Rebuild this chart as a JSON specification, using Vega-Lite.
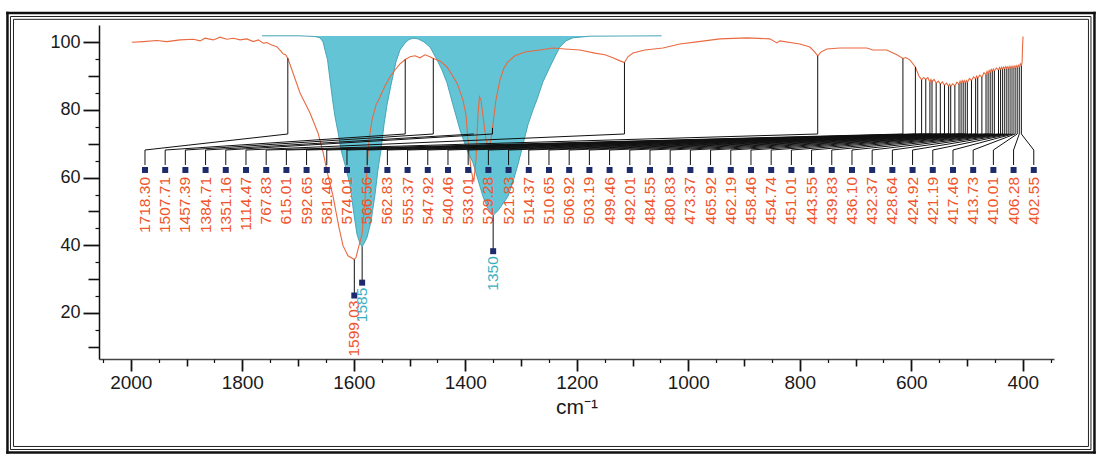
{
  "$schema": "https://vega.github.io/schema/vega-lite/v6.json",
  "width": 955,
  "height": 334,
  "autosize": {"type": "none"},
  "padding": {"left": 99, "top": 25, "right": 42, "bottom": 95},
  "background": "white",
  "config": {"view": {"stroke": null}, "font": "Liberation Sans", "axis": {"grid": false}},
  "resolve": {"axis": {"x": "independent", "y": "independent"}},
  "datasets": {
    "spec": [
      {"wn":1998.2,"t":100.0},{"wn":1977.4,"t":100.2},{"wn":1953.4,"t":100.5},{"wn":1935.5,"t":100.2},{"wn":1911.6,"t":100.7},
      {"wn":1887.7,"t":100.9},{"wn":1875.7,"t":100.4},{"wn":1866.8,"t":101.2},{"wn":1851.9,"t":100.7},{"wn":1839.9,"t":101.5},
      {"wn":1827.9,"t":100.9},{"wn":1816.0,"t":101.2},{"wn":1804.0,"t":100.7},{"wn":1792.0,"t":101.0},{"wn":1780.2,"t":100.2},
      {"wn":1771.2,"t":100.7},{"wn":1762.2,"t":99.7},{"wn":1756.1,"t":99.9},{"wn":1747.2,"t":99.2},{"wn":1738.2,"t":98.7},
      {"wn":1732.3,"t":97.7},{"wn":1726.4,"t":96.5},{"wn":1722.4,"t":96.3},{"wn":1718.3,"t":95.3},{"wn":1709.0,"t":90.9},
      {"wn":1696.4,"t":85.0},{"wn":1678.5,"t":79.1},{"wn":1664.2,"t":73.2},{"wn":1655.2,"t":67.6},{"wn":1646.2,"t":60.6},
      {"wn":1637.3,"t":54.6},{"wn":1631.9,"t":49.9},{"wn":1626.5,"t":45.2},{"wn":1619.3,"t":39.9},{"wn":1610.4,"t":36.9},
      {"wn":1599.03,"t":35.8},{"wn":1596.0,"t":36.4},{"wn":1592.4,"t":38.8},{"wn":1585.2,"t":43.2},{"wn":1579.9,"t":53.5},
      {"wn":1576.3,"t":62.3},{"wn":1572.7,"t":71.2},{"wn":1567.3,"t":77.0},{"wn":1560.1,"t":81.5},{"wn":1553.0,"t":83.8},
      {"wn":1544.0,"t":87.1},{"wn":1535.0,"t":89.8},{"wn":1526.1,"t":91.8},{"wn":1517.1,"t":93.6},{"wn":1507.71,"t":94.9},
      {"wn":1499.2,"t":95.7},{"wn":1490.2,"t":96.0},{"wn":1481.2,"t":95.4},{"wn":1472.3,"t":96.3},{"wn":1463.3,"t":95.7},
      {"wn":1457.39,"t":95.2},{"wn":1445.4,"t":94.5},{"wn":1432.8,"t":92.7},{"wn":1423.9,"t":90.4},{"wn":1414.9,"t":88.0},
      {"wn":1404.2,"t":83.0},{"wn":1398.8,"t":78.6},{"wn":1395.2,"t":71.2},{"wn":1389.8,"t":62.3},{"wn":1384.71,"t":58.8},
      {"wn":1380.8,"t":65.3},{"wn":1377.3,"t":78.6},{"wn":1374.6,"t":83.9},{"wn":1371.9,"t":83.0},{"wn":1367.4,"t":77.1},
      {"wn":1362.9,"t":71.2},{"wn":1357.5,"t":68.8},{"wn":1354.0,"t":71.2},{"wn":1351.16,"t":74.7},{"wn":1345.0,"t":83.0},
      {"wn":1337.8,"t":88.9},{"wn":1330.6,"t":92.4},{"wn":1323.5,"t":94.2},{"wn":1310.9,"t":96.0},{"wn":1293.0,"t":97.1},
      {"wn":1266.1,"t":97.7},{"wn":1242.8,"t":98.3},{"wn":1221.3,"t":98.0},{"wn":1194.4,"t":97.7},{"wn":1167.5,"t":96.8},
      {"wn":1149.5,"t":96.3},{"wn":1135.2,"t":95.4},{"wn":1122.6,"t":94.5},{"wn":1114.47,"t":94.0},{"wn":1108.3,"t":95.7},
      {"wn":1099.3,"t":96.8},{"wn":1077.8,"t":97.7},{"wn":1045.5,"t":98.3},{"wn":1015.0,"t":99.5},{"wn":984.6,"t":100.1},
      {"wn":943.3,"t":101.0},{"wn":894.9,"t":101.3},{"wn":853.7,"t":101.0},{"wn":841.1,"t":99.8},{"wn":835.7,"t":100.4},
      {"wn":799.9,"t":99.5},{"wn":781.9,"t":98.6},{"wn":773.0,"t":97.1},{"wn":767.83,"t":96.0},{"wn":762.2,"t":97.1},
      {"wn":751.5,"t":98.0},{"wn":728.1,"t":98.3},{"wn":679.7,"t":98.3},{"wn":669.0,"t":97.7},{"wn":643.9,"t":97.7},
      {"wn":625.9,"t":96.3},{"wn":615.01,"t":95.2},{"wn":609.8,"t":95.5},{"wn":602.6,"t":94.8},{"wn":592.65,"t":92.7},
      {"wn":586.5,"t":90.1},{"wn":581.46,"t":88.9},{"wn":577.7,"t":89.6},{"wn":574.01,"t":89.0},{"wn":570.3,"t":89.6},
      {"wn":566.56,"t":88.1},{"wn":564.7,"t":89.0},{"wn":562.83,"t":88.4},{"wn":559.1,"t":89.0},{"wn":555.37,"t":87.9},
      {"wn":551.6,"t":88.5},{"wn":547.92,"t":87.7},{"wn":544.2,"t":88.3},{"wn":540.46,"t":87.3},{"wn":536.7,"t":87.9},
      {"wn":533.01,"t":87.0},{"wn":531.1,"t":87.6},{"wn":529.28,"t":87.0},{"wn":525.6,"t":87.7},{"wn":521.83,"t":87.1},
      {"wn":518.1,"t":88.2},{"wn":514.37,"t":87.6},{"wn":512.5,"t":88.5},{"wn":510.65,"t":87.9},{"wn":508.8,"t":88.7},
      {"wn":506.92,"t":88.1},{"wn":505.1,"t":88.7},{"wn":503.19,"t":88.0},{"wn":501.3,"t":88.7},{"wn":499.46,"t":88.1},
      {"wn":495.7,"t":89.3},{"wn":492.01,"t":88.7},{"wn":488.3,"t":89.8},{"wn":484.55,"t":89.2},{"wn":482.7,"t":90.0},
      {"wn":480.83,"t":89.4},{"wn":477.1,"t":90.3},{"wn":473.37,"t":89.7},{"wn":469.6,"t":91.0},{"wn":465.92,"t":90.4},
      {"wn":464.1,"t":91.4},{"wn":462.19,"t":90.8},{"wn":460.3,"t":91.7},{"wn":458.46,"t":91.1},{"wn":456.6,"t":92.0},
      {"wn":454.74,"t":91.4},{"wn":452.9,"t":92.1},{"wn":451.01,"t":91.5},{"wn":447.3,"t":92.4},{"wn":443.55,"t":91.8},
      {"wn":441.7,"t":92.5},{"wn":439.83,"t":91.9},{"wn":438.0,"t":92.6},{"wn":436.10,"t":92.0},{"wn":434.2,"t":92.7},
      {"wn":432.37,"t":92.1},{"wn":430.5,"t":92.8},{"wn":428.64,"t":92.2},{"wn":426.8,"t":92.8},{"wn":424.92,"t":92.2},
      {"wn":423.1,"t":92.9},{"wn":421.19,"t":92.3},{"wn":419.3,"t":92.9},{"wn":417.46,"t":92.3},{"wn":415.6,"t":93.0},
      {"wn":413.73,"t":92.4},{"wn":411.9,"t":93.1},{"wn":410.01,"t":92.5},{"wn":408.1,"t":93.2},{"wn":406.28,"t":92.6},
      {"wn":404.4,"t":93.6},{"wn":402.55,"t":93.0},{"wn":401.2,"t":94.2},{"wn":400.3,"t":99.2},{"wn":399.5,"t":101.7}
    ],
    "cyan": [
      {"wn":1764.6,"t":101.9},{"wn":1696.4,"t":101.9},{"wn":1669.5,"t":101.7},{"wn":1660.6,"t":101.3},{"wn":1655.2,"t":100.1},
      {"wn":1651.6,"t":97.7},{"wn":1647.1,"t":94.8},{"wn":1642.6,"t":88.9},{"wn":1638.1,"t":83.0},{"wn":1633.7,"t":78.0},
      {"wn":1628.3,"t":73.5},{"wn":1622.9,"t":68.2},{"wn":1615.7,"t":63.8},{"wn":1606.8,"t":57.9},{"wn":1599.6,"t":49.1},
      {"wn":1594.2,"t":43.2},{"wn":1588.8,"t":40.5},{"wn":1585.0,"t":39.6},{"wn":1581.7,"t":40.5},{"wn":1576.3,"t":42.3},
      {"wn":1569.1,"t":47.0},{"wn":1561.9,"t":55.0},{"wn":1556.6,"t":62.3},{"wn":1551.2,"t":68.2},{"wn":1545.8,"t":75.6},
      {"wn":1540.4,"t":81.5},{"wn":1533.2,"t":87.4},{"wn":1524.3,"t":94.2},{"wn":1517.1,"t":97.7},{"wn":1508.1,"t":99.8},
      {"wn":1501.0,"t":100.8},{"wn":1493.8,"t":101.2},{"wn":1484.8,"t":101.0},{"wn":1474.1,"t":100.1},{"wn":1463.3,"t":98.6},
      {"wn":1452.6,"t":95.4},{"wn":1441.8,"t":91.8},{"wn":1432.8,"t":88.0},{"wn":1422.1,"t":81.5},{"wn":1409.5,"t":74.1},
      {"wn":1397.0,"t":68.2},{"wn":1386.2,"t":64.4},{"wn":1377.3,"t":59.4},{"wn":1368.3,"t":54.4},{"wn":1359.3,"t":50.8},
      {"wn":1350.0,"t":48.9},{"wn":1341.4,"t":50.2},{"wn":1332.4,"t":52.3},{"wn":1323.5,"t":54.4},{"wn":1314.5,"t":58.8},
      {"wn":1305.5,"t":63.8},{"wn":1296.6,"t":69.7},{"wn":1287.6,"t":75.6},{"wn":1278.6,"t":80.0},{"wn":1271.5,"t":83.0},
      {"wn":1260.7,"t":88.3},{"wn":1248.2,"t":92.7},{"wn":1237.4,"t":96.3},{"wn":1230.2,"t":98.6},{"wn":1219.5,"t":100.4},
      {"wn":1206.9,"t":101.3},{"wn":1176.4,"t":101.8},{"wn":1047.9,"t":101.9}
    ],
    "peaks": [
      {"wn":1718.30,"t":95.3,"label":"1718.30"},{"wn":1507.71,"t":94.9,"label":"1507.71"},{"wn":1457.39,"t":95.2,"label":"1457.39"},
      {"wn":1384.71,"t":58.8,"label":"1384.71"},{"wn":1351.16,"t":74.7,"label":"1351.16"},{"wn":1114.47,"t":94.0,"label":"1114.47"},
      {"wn":767.83,"t":96.0,"label":"767.83"},{"wn":615.01,"t":95.2,"label":"615.01"},{"wn":592.65,"t":92.7,"label":"592.65"},
      {"wn":581.46,"t":88.9,"label":"581.46"},{"wn":574.01,"t":89.0,"label":"574.01"},{"wn":566.56,"t":88.1,"label":"566.56"},
      {"wn":562.83,"t":88.4,"label":"562.83"},{"wn":555.37,"t":87.9,"label":"555.37"},{"wn":547.92,"t":87.7,"label":"547.92"},
      {"wn":540.46,"t":87.3,"label":"540.46"},{"wn":533.01,"t":87.0,"label":"533.01"},{"wn":529.28,"t":87.0,"label":"529.28"},
      {"wn":521.83,"t":87.1,"label":"521.83"},{"wn":514.37,"t":87.6,"label":"514.37"},{"wn":510.65,"t":87.9,"label":"510.65"},
      {"wn":506.92,"t":88.1,"label":"506.92"},{"wn":503.19,"t":88.0,"label":"503.19"},{"wn":499.46,"t":88.1,"label":"499.46"},
      {"wn":492.01,"t":88.7,"label":"492.01"},{"wn":484.55,"t":89.2,"label":"484.55"},{"wn":480.83,"t":89.4,"label":"480.83"},
      {"wn":473.37,"t":89.7,"label":"473.37"},{"wn":465.92,"t":90.4,"label":"465.92"},{"wn":462.19,"t":90.8,"label":"462.19"},
      {"wn":458.46,"t":91.1,"label":"458.46"},{"wn":454.74,"t":91.4,"label":"454.74"},{"wn":451.01,"t":91.5,"label":"451.01"},
      {"wn":443.55,"t":91.8,"label":"443.55"},{"wn":439.83,"t":91.9,"label":"439.83"},{"wn":436.10,"t":92.0,"label":"436.10"},
      {"wn":432.37,"t":92.1,"label":"432.37"},{"wn":428.64,"t":92.2,"label":"428.64"},{"wn":424.92,"t":92.2,"label":"424.92"},
      {"wn":421.19,"t":92.3,"label":"421.19"},{"wn":417.46,"t":92.3,"label":"417.46"},{"wn":413.73,"t":92.4,"label":"413.73"},
      {"wn":410.01,"t":92.5,"label":"410.01"},{"wn":406.28,"t":92.6,"label":"406.28"},{"wn":402.55,"t":93.0,"label":"402.55"}
    ],
    "special": [
      {"wn":1599.03,"t":35.8,"label":"1599.03","kind":"sample"},
      {"wn":1585,"t":39.6,"label":"1585","kind":"reference"},
      {"wn":1350,"t":48.9,"label":"1350","kind":"reference"}
    ]
  },
  "encoding": {
    "x": {"field": "wn", "type": "quantitative", "scale": {"domain": [2057, 344], "nice": false, "zero": false}, "axis": null},
    "y": {"field": "t", "type": "quantitative", "scale": {"domain": [6.4, 105.1], "nice": false, "zero": false}, "axis": null}
  },
  "layer": [
    {"data": {"name": "special"}, "transform": [{"filter": "datum.kind === 'sample'"}],
     "mark": {"type": "rule", "color": "#111", "strokeWidth": 2.5, "strokeCap": "square", "clip": false},
     "encoding": {"x": {"datum": 2221.2, "type": "quantitative", "axis": null}, "x2": {"datum": 271.4}, "y": {"datum": 108.65, "type": "quantitative", "axis": null}}},
    {"data": {"name": "special"}, "transform": [{"filter": "datum.kind === 'sample'"}],
     "mark": {"type": "rule", "color": "#111", "strokeWidth": 2.5, "strokeCap": "square", "clip": false},
     "encoding": {"x": {"datum": 2221.2, "type": "quantitative", "axis": null}, "x2": {"datum": 271.4}, "y": {"datum": -21.23, "type": "quantitative", "axis": null}}},
    {"data": {"name": "special"}, "transform": [{"filter": "datum.kind === 'sample'"}],
     "mark": {"type": "rule", "color": "#111", "strokeWidth": 2.5, "strokeCap": "square", "clip": false},
     "encoding": {"x": {"datum": 2221.2, "type": "quantitative", "axis": null}, "y": {"datum": 108.65, "type": "quantitative", "axis": null}, "y2": {"datum": -21.23}}},
    {"data": {"name": "special"}, "transform": [{"filter": "datum.kind === 'sample'"}],
     "mark": {"type": "rule", "color": "#111", "strokeWidth": 2.5, "strokeCap": "square", "clip": false},
     "encoding": {"x": {"datum": 271.4, "type": "quantitative", "axis": null}, "y": {"datum": 108.65, "type": "quantitative", "axis": null}, "y2": {"datum": -21.23}}},

    {"data": {"name": "special"}, "transform": [{"filter": "datum.kind === 'sample'"}],
     "mark": {"type": "rule", "color": "#222", "strokeWidth": 1, "clip": false},
     "encoding": {"x": {"datum": 2215.8, "type": "quantitative", "axis": null}, "x2": {"datum": 277.7}, "y": {"datum": 107.61, "type": "quantitative", "axis": null}}},
    {"data": {"name": "special"}, "transform": [{"filter": "datum.kind === 'sample'"}],
     "mark": {"type": "rule", "color": "#222", "strokeWidth": 1, "clip": false},
     "encoding": {"x": {"datum": 2215.8, "type": "quantitative", "axis": null}, "x2": {"datum": 277.7}, "y": {"datum": -20.34, "type": "quantitative", "axis": null}}},
    {"data": {"name": "special"}, "transform": [{"filter": "datum.kind === 'sample'"}],
     "mark": {"type": "rule", "color": "#222", "strokeWidth": 1, "clip": false},
     "encoding": {"x": {"datum": 2215.8, "type": "quantitative", "axis": null}, "y": {"datum": 107.61, "type": "quantitative", "axis": null}, "y2": {"datum": -20.34}}},
    {"data": {"name": "special"}, "transform": [{"filter": "datum.kind === 'sample'"}],
     "mark": {"type": "rule", "color": "#222", "strokeWidth": 1, "clip": false},
     "encoding": {"x": {"datum": 277.7, "type": "quantitative", "axis": null}, "y": {"datum": 107.61, "type": "quantitative", "axis": null}, "y2": {"datum": -20.34}}},

    {"data": {"name": "special"}, "transform": [{"filter": "datum.kind === 'sample'"}],
     "mark": {"type": "rule", "color": "#222", "strokeWidth": 1, "clip": false},
     "encoding": {"x": {"datum": 2210.4, "type": "quantitative", "axis": null}, "x2": {"datum": 282.2}, "y": {"datum": 106.78, "type": "quantitative", "axis": null}}},
    {"data": {"name": "special"}, "transform": [{"filter": "datum.kind === 'sample'"}],
     "mark": {"type": "rule", "color": "#222", "strokeWidth": 1, "clip": false},
     "encoding": {"x": {"datum": 2210.4, "type": "quantitative", "axis": null}, "x2": {"datum": 282.2}, "y": {"datum": -19.45, "type": "quantitative", "axis": null}}},
    {"data": {"name": "special"}, "transform": [{"filter": "datum.kind === 'sample'"}],
     "mark": {"type": "rule", "color": "#222", "strokeWidth": 1, "clip": false},
     "encoding": {"x": {"datum": 2210.4, "type": "quantitative", "axis": null}, "y": {"datum": 106.78, "type": "quantitative", "axis": null}, "y2": {"datum": -19.45}}},
    {"data": {"name": "special"}, "transform": [{"filter": "datum.kind === 'sample'"}],
     "mark": {"type": "rule", "color": "#222", "strokeWidth": 1, "clip": false},
     "encoding": {"x": {"datum": 282.2, "type": "quantitative", "axis": null}, "y": {"datum": 106.78, "type": "quantitative", "axis": null}, "y2": {"datum": -19.45}}},

    {
      "data": {"name": "cyan"},
      "mark": {"type": "area", "color": "#62C4D5", "opacity": 1},
      "encoding": {
        "x": {
          "field": "wn", "type": "quantitative",
          "scale": {"domain": [2057, 344], "nice": false, "zero": false},
          "axis": {
            "orient": "bottom", "title": "cm⁻¹",
            "values": [2000, 1800, 1600, 1400, 1200, 1000, 800, 600, 400],
            "format": "d", "tickSize": 12, "tickWidth": 1.8, "tickColor": "#111",
            "domain": true, "domainColor": "#444", "domainWidth": 1.3,
            "labelFont": "Liberation Sans", "labelFontSize": 19, "labelColor": "#1a1a1a", "labelPadding": 2,
            "labelFlush": false, "labelOverlap": false,
            "titleFont": "Liberation Sans", "titleFontSize": 21, "titleFontWeight": "normal", "titleColor": "#1a1a1a", "titlePadding": 4
          }
        },
        "y": {
          "field": "t", "type": "quantitative",
          "scale": {"domain": [6.4, 105.1], "nice": false, "zero": false},
          "axis": {
            "orient": "left", "title": null,
            "values": [20, 40, 60, 80, 100],
            "format": "d", "tickSize": 16, "tickWidth": 1.8, "tickColor": "#111",
            "domain": true, "domainColor": "#111", "domainWidth": 1.5,
            "labelFont": "Liberation Sans", "labelFontSize": 18, "labelColor": "#1a1a1a", "labelPadding": 3,
            "labelOverlap": false
          }
        },
        "y2": {"datum": 101.86}
      }
    },
    {
      "data": {"name": "cyan"},
      "mark": {"type": "line", "color": "#3E9FB2", "strokeWidth": 0.9},
      "encoding": {
        "x": {
          "field": "wn", "type": "quantitative",
          "scale": {"domain": [2057, 344], "nice": false, "zero": false},
          "axis": {
            "orient": "bottom", "title": null,
            "values": [1900, 1700, 1500, 1300, 1100, 900, 700, 500],
            "tickSize": 7, "tickWidth": 1.6, "tickColor": "#111",
            "domain": false, "labels": false
          }
        },
        "y": {
          "field": "t", "type": "quantitative",
          "scale": {"domain": [6.4, 105.1], "nice": false, "zero": false},
          "axis": {
            "orient": "left", "title": null,
            "values": [10, 30, 50, 70, 90],
            "tickSize": 11, "tickWidth": 1.6, "tickColor": "#111",
            "domain": false, "labels": false
          }
        }
      }
    },
    {
      "data": {"name": "spec"},
      "mark": {"type": "line", "color": "#E96A40", "strokeWidth": 1.1},
      "encoding": {
        "x": {
          "field": "wn", "type": "quantitative",
          "scale": {"domain": [2057, 344], "nice": false, "zero": false},
          "axis": {
            "orient": "bottom", "title": null,
            "values": [2050, 1950, 1850, 1750, 1650, 1550, 1450, 1350, 1250, 1150, 1050, 950, 850, 750, 650, 550, 450, 350],
            "tickSize": 3.5, "tickWidth": 1.2, "tickColor": "#111",
            "domain": false, "labels": false
          }
        },
        "y": {
          "field": "t", "type": "quantitative",
          "scale": {"domain": [6.4, 105.1], "nice": false, "zero": false},
          "axis": {
            "orient": "left", "title": null,
            "values": [15, 25, 35, 45, 55, 65, 75, 85, 95],
            "tickSize": 4, "tickWidth": 1.2, "tickColor": "#111",
            "domain": false, "labels": false
          }
        }
      }
    },
    {
      "data": {"name": "peaks"},
      "transform": [{"filter": "datum.t > 72.89"}],
      "mark": {"type": "rule", "color": "#111", "strokeWidth": 1},
      "encoding": {"y2": {"datum": 72.89}}
    },
    {
      "data": {"name": "peaks"},
      "transform": [
        {"window": [{"op": "row_number", "as": "idx"}], "sort": [{"field": "wn", "order": "descending"}]},
        {"calculate": "1974.53 - 36.233 * (datum.idx - 1)", "as": "slot"}
      ],
      "mark": {"type": "rule", "color": "#111", "strokeWidth": 1},
      "encoding": {
        "y": {"datum": 72.89, "type": "quantitative", "axis": null},
        "x2": {"field": "slot"},
        "y2": {"datum": 68.16}
      }
    },
    {
      "data": {"name": "peaks"},
      "transform": [
        {"window": [{"op": "row_number", "as": "idx"}], "sort": [{"field": "wn", "order": "descending"}]},
        {"calculate": "1974.53 - 36.233 * (datum.idx - 1)", "as": "slot"}
      ],
      "mark": {"type": "rule", "color": "#111", "strokeWidth": 1},
      "encoding": {
        "x": {"field": "slot", "type": "quantitative", "axis": null},
        "y": {"datum": 68.16, "type": "quantitative", "axis": null},
        "y2": {"datum": 63.73}
      }
    },
    {
      "data": {"name": "peaks"},
      "transform": [
        {"window": [{"op": "row_number", "as": "idx"}], "sort": [{"field": "wn", "order": "descending"}]},
        {"calculate": "1974.53 - 36.233 * (datum.idx - 1)", "as": "slot"}
      ],
      "mark": {"type": "square", "size": 36, "color": "#1D2A6B", "opacity": 1, "filled": true},
      "encoding": {
        "x": {"field": "slot", "type": "quantitative", "axis": null},
        "y": {"datum": 62.26, "type": "quantitative", "axis": null}
      }
    },
    {
      "data": {"name": "peaks"},
      "transform": [
        {"window": [{"op": "row_number", "as": "idx"}], "sort": [{"field": "wn", "order": "descending"}]},
        {"calculate": "1974.53 - 36.233 * (datum.idx - 1)", "as": "slot"}
      ],
      "mark": {"type": "text", "angle": 270, "align": "right", "baseline": "middle", "fontSize": 15.5, "font": "Liberation Sans", "color": "#F0542A"},
      "encoding": {
        "x": {"field": "slot", "type": "quantitative", "axis": null},
        "y": {"datum": 60.19, "type": "quantitative", "axis": null},
        "text": {"field": "label"}
      }
    },
    {
      "data": {"name": "special"},
      "mark": {"type": "rule", "color": "#111", "strokeWidth": 1, "y2Offset": 34},
      "encoding": {"y2": {"field": "t"}}
    },
    {
      "data": {"name": "special"},
      "mark": {"type": "square", "size": 36, "color": "#1D2A6B", "opacity": 1, "filled": true, "yOffset": 36},
      "encoding": {}
    },
    {
      "data": {"name": "special"},
      "mark": {"type": "text", "angle": 270, "align": "right", "baseline": "middle", "fontSize": 15.5, "font": "Liberation Sans", "yOffset": 41},
      "encoding": {
        "text": {"field": "label"},
        "color": {"field": "kind", "type": "nominal", "scale": {"domain": ["sample", "reference"], "range": ["#F0542A", "#3AAFC0"]}, "legend": null}
      }
    }
  ]
}
